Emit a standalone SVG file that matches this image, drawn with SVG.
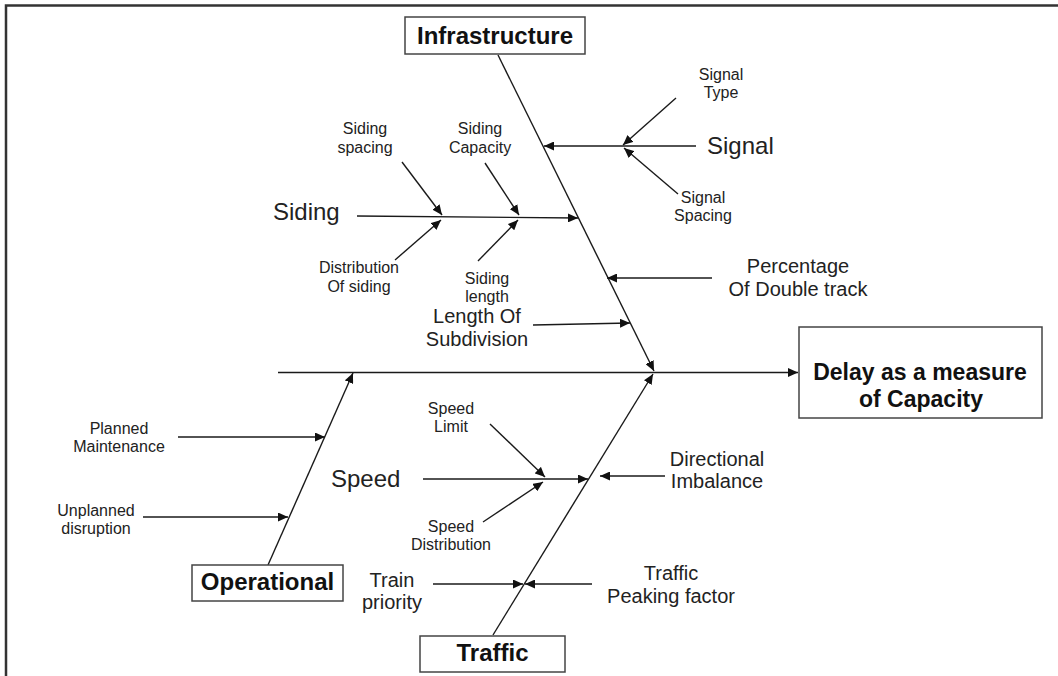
<svg xmlns="http://www.w3.org/2000/svg" width="1058" height="676" viewBox="0 0 1058 676">
  <defs>
    <marker id="arrow" viewBox="0 0 10 9" refX="10" refY="4.5" markerWidth="10" markerHeight="9" markerUnits="userSpaceOnUse" orient="auto">
      <path d="M0,0 L10,4.5 L0,9 z" fill="#111"/>
    </marker>
    <style>
      .frame { stroke: #333; stroke-width: 2.5; fill: none; }
      .box { fill: #fff; stroke: #444; stroke-width: 1.5; }
      .title { font-family: "Liberation Sans", Arial, sans-serif; font-weight: bold; font-size: 24px; fill: #111; text-anchor: middle; }
      .effect { font-family: "Liberation Sans", Arial, sans-serif; font-weight: bold; font-size: 23px; fill: #111; text-anchor: middle; }
      .big { font-family: "Liberation Sans", Arial, sans-serif; font-size: 24px; fill: #222; }
      .mid { font-family: "Liberation Sans", Arial, sans-serif; font-size: 20px; fill: #222; text-anchor: middle; }
      .small { font-family: "Liberation Sans", Arial, sans-serif; font-size: 16px; fill: #222; text-anchor: middle; }
      .conn path { stroke: #1a1a1a; stroke-width: 1.4; fill: none; }
      .conn path.arr { marker-end: url(#arrow); }
    </style>
  </defs>

  <rect width="1058" height="676" fill="#fff"/>

  <!-- outer frame: top and left edges -->
  <path class="frame" d="M6,676 L6,5.5 L1058,5.5"/>

  <!-- connectors -->
  <g id="connectors" class="conn">
    <!-- main spine into the effect box -->
    <path class="arr" d="M278,372.5 L798,372.5"/>
    <!-- category spines -->
    <path class="arr" d="M498,55 L654,371"/>
    <path class="arr" d="M268,565 L353,373"/>
    <path class="arr" d="M493,635 L653,374"/>

    <!-- infrastructure causes -->
    <path class="arr" d="M696,146 L544,146"/>
    <path class="arr" d="M676,98 L623,145"/>
    <path class="arr" d="M678,194 L624,148"/>
    <path class="arr" d="M357,216 L578,218"/>
    <path class="arr" d="M402,162 L442,215"/>
    <path class="arr" d="M395,260 L441,220"/>
    <path class="arr" d="M485,163 L519,215"/>
    <path class="arr" d="M478,261 L518,220"/>
    <path class="arr" d="M712,278 L607,278"/>
    <path class="arr" d="M533,325 L630,323"/>

    <!-- operational causes -->
    <path class="arr" d="M178,437 L325,437"/>
    <path class="arr" d="M143,517 L288,517"/>

    <!-- traffic causes -->
    <path class="arr" d="M423,479 L588,479"/>
    <path class="arr" d="M490,424 L545,477"/>
    <path class="arr" d="M483,522 L543,482"/>
    <path class="arr" d="M665,476 L600,476"/>
    <path class="arr" d="M433,584 L523,584"/>
    <path class="arr" d="M592,584 L525,584"/>
  </g>

  <!-- category boxes -->
  <g id="infrastructure">
    <rect class="box" x="405" y="17" width="180" height="37"/>
    <text class="title" x="495" y="44">Infrastructure</text>
  </g>
  <g id="operational">
    <rect class="box" x="192" y="565" width="151" height="36"/>
    <text class="title" x="267.5" y="590">Operational</text>
  </g>
  <g id="traffic">
    <rect class="box" x="420" y="636" width="145" height="36"/>
    <text class="title" x="492.5" y="661">Traffic</text>
  </g>
  <g id="delay">
    <rect class="box" x="799" y="327" width="243" height="91"/>
    <text class="effect" x="920" y="380">Delay as a measure</text>
    <text class="effect" x="921" y="407">of Capacity</text>
  </g>

  <!-- infrastructure labels -->
  <g id="signal">
    <text class="big" x="707" y="154">Signal</text>
  </g>
  <g id="signal-type">
    <text class="small" x="721" y="80">Signal</text>
    <text class="small" x="721" y="98">Type</text>
  </g>
  <g id="signal-spacing">
    <text class="small" x="703" y="203">Signal</text>
    <text class="small" x="703" y="221">Spacing</text>
  </g>
  <g id="siding">
    <text class="big" x="273" y="220">Siding</text>
  </g>
  <g id="siding-spacing">
    <text class="small" x="365" y="134">Siding</text>
    <text class="small" x="365" y="153">spacing</text>
  </g>
  <g id="siding-capacity">
    <text class="small" x="480" y="134">Siding</text>
    <text class="small" x="480" y="153">Capacity</text>
  </g>
  <g id="distribution-of-siding">
    <text class="small" x="359" y="273">Distribution</text>
    <text class="small" x="359" y="292">Of siding</text>
  </g>
  <g id="siding-length">
    <text class="small" x="487" y="284">Siding</text>
    <text class="small" x="487" y="302">length</text>
  </g>
  <g id="double-track">
    <text class="mid" x="798" y="273">Percentage</text>
    <text class="mid" x="798" y="296">Of Double track</text>
  </g>
  <g id="subdivision">
    <text class="mid" x="477" y="323">Length Of</text>
    <text class="mid" x="477" y="346">Subdivision</text>
  </g>

  <!-- operational labels -->
  <g id="planned-maintenance">
    <text class="small" x="119" y="434">Planned</text>
    <text class="small" x="119" y="452">Maintenance</text>
  </g>
  <g id="unplanned-disruption">
    <text class="small" x="96" y="516">Unplanned</text>
    <text class="small" x="96" y="534">disruption</text>
  </g>

  <!-- traffic labels -->
  <g id="speed">
    <text class="big" x="331" y="487">Speed</text>
  </g>
  <g id="speed-limit">
    <text class="small" x="451" y="414">Speed</text>
    <text class="small" x="451" y="432">Limit</text>
  </g>
  <g id="speed-distribution">
    <text class="small" x="451" y="532">Speed</text>
    <text class="small" x="451" y="550">Distribution</text>
  </g>
  <g id="directional-imbalance">
    <text class="mid" x="717" y="466">Directional</text>
    <text class="mid" x="717" y="488">Imbalance</text>
  </g>
  <g id="train-priority">
    <text class="mid" x="392" y="587">Train</text>
    <text class="mid" x="392" y="609">priority</text>
  </g>
  <g id="peaking-factor">
    <text class="mid" x="671" y="580">Traffic</text>
    <text class="mid" x="671" y="603">Peaking factor</text>
  </g>
</svg>
